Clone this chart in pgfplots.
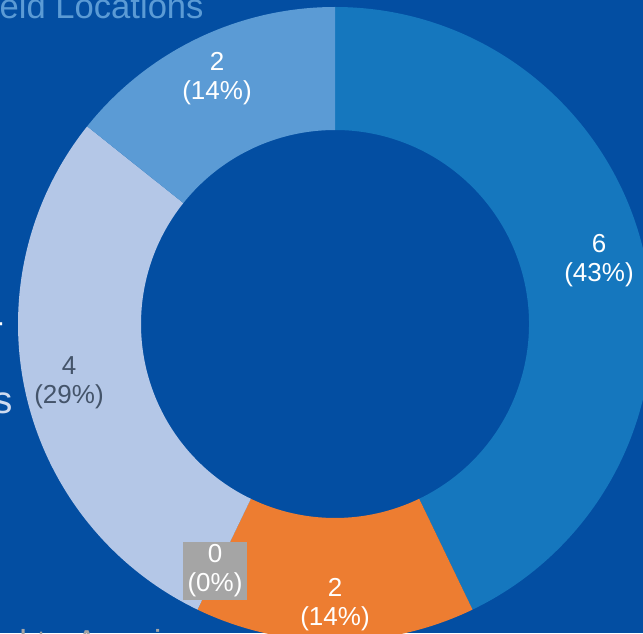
\documentclass[border=0pt]{standalone}
\usepackage{pgfplots}
\pgfplotsset{compat=1.18}
\usepackage{pgfplotstable}
\usepackage{fontspec}
\setmainfont{Liberation Sans}

\definecolor{bgblue}{HTML}{034EA2}
\definecolor{segA}{HTML}{1577BE}
\definecolor{segB}{HTML}{ED7D31}
\definecolor{segC}{HTML}{A5A5A5}
\definecolor{segD}{HTML}{B4C7E7}
\definecolor{segE}{HTML}{5B9BD5}
\definecolor{titleblue}{HTML}{5B9BD5}
\definecolor{slate}{HTML}{44546A}
\definecolor{legtext}{HTML}{CFDBF0}

% slices, clockwise from 12 o'clock
\pgfplotstableread{
value col
6 segA
2 segB
0 segC
4 segD
2 segE
}\donut
\def\total{14}

\begin{document}
\begin{tikzpicture}
\begin{axis}[
    scale only axis,
    width=321.5pt, height=316.5pt,
    xmin=0, xmax=643, ymin=0, ymax=633,
    hide axis,
]
\fill[bgblue] (axis cs:0,0) rectangle (axis cs:643,633);

\def\cum{0}
\pgfplotsforeachungrouped \i in {0,...,4}{%
    \pgfplotstablegetelem{\i}{value}\of{\donut}\let\v\pgfplotsretval
    \pgfplotstablegetelem{\i}{col}\of{\donut}\let\c\pgfplotsretval
    \pgfmathsetmacro\a{90-360*\cum/\total}
    \pgfmathsetmacro\cum{\cum+\v}
    \pgfmathsetmacro\b{90-360*\cum/\total}
    \edef\temp{\noexpand\fill[\c] (axis cs:335,309) ++(\a:158.5pt)
        arc[start angle=\a, end angle=\b, radius=158.5pt]
        -- ++(\b:-61.5pt)
        arc[start angle=\b, end angle=\a, radius=97pt] -- cycle;}%
    \temp
}

% data labels
\begin{scope}[every node/.style={align=center, font=\fontsize{13}{14.5}\selectfont}]
\node[white] at (axis cs:599,372) {6\\(43\%)};
\node[white] at (axis cs:217,554) {2\\(14\%)};
\node[slate] at (axis cs:69,250) {4\\(29\%)};
\node[white] at (axis cs:335,28) {2\\(14\%)};
\node[white, fill=segC, inner sep=0pt, minimum width=32pt, minimum height=29pt] at (axis cs:215,62) {0\\(0\%)};
\end{scope}

% title and legend fragments at the edges
\node[titleblue, anchor=base east, inner sep=0pt, font=\fontsize{17.3}{20}\selectfont] at (axis cs:204,614) {Field Locations};
\node[legtext, anchor=base east, inner sep=0pt, font=\fontsize{19.3}{22}\selectfont] at (axis cs:13,220) {s};
\node[white, anchor=base east, inner sep=0pt, font=\fontsize{19.3}{22}\selectfont] at (axis cs:5,299) {-};
\node[segC, anchor=base west, inner sep=0pt, font=\fontsize{17.3}{20}\selectfont] at (axis cs:19,-21) {l to Acquire};
\end{axis}
\pgfresetboundingbox
\path[use as bounding box] (current axis.south west) rectangle (current axis.north east);
\end{tikzpicture}
\end{document}
